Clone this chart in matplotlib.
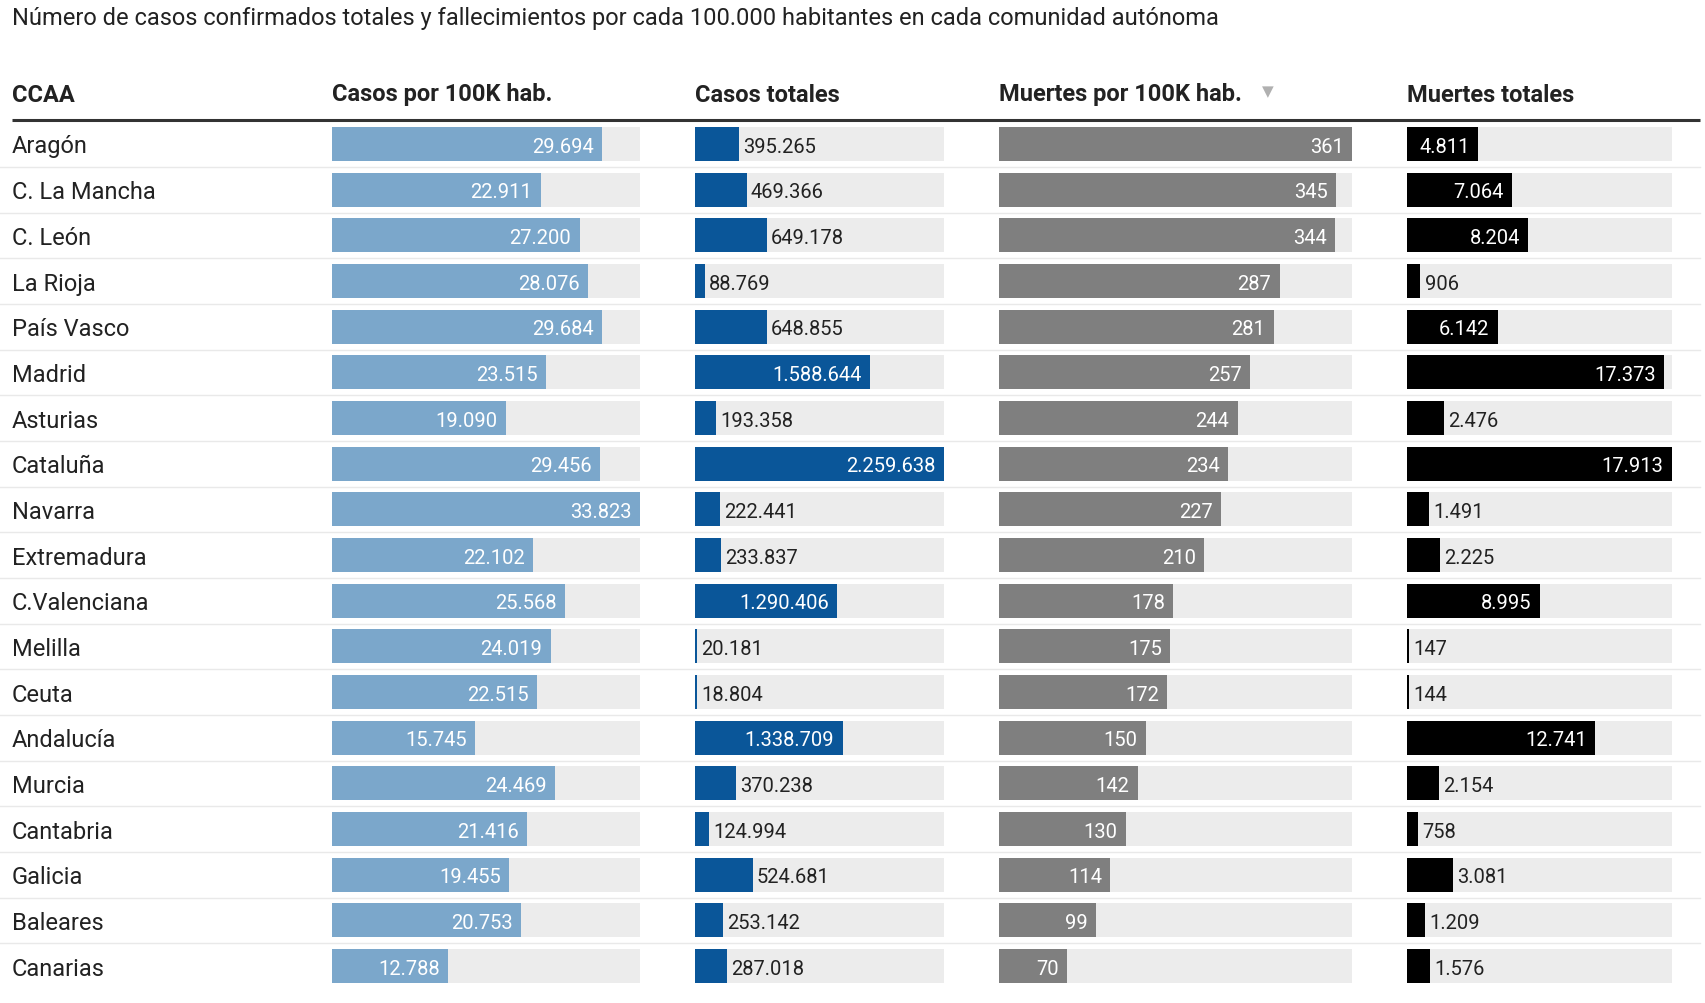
import matplotlib
matplotlib.use("Agg")
import matplotlib.pyplot as plt

plt.rcParams['font.family'] = ['Roboto', 'DejaVu Sans']

title = "Número de casos confirmados totales y fallecimientos por cada 100.000 habitantes en cada comunidad autónoma"
headers = ["CCAA", "Casos por 100K hab.", "Casos totales", "Muertes por 100K hab.", "Muertes totales"]

ccaa = ["Aragón", "C. La Mancha", "C. León", "La Rioja", "País Vasco", "Madrid", "Asturias",
        "Cataluña", "Navarra", "Extremadura", "C.Valenciana", "Melilla", "Ceuta", "Andalucía",
        "Murcia", "Cantabria", "Galicia", "Baleares", "Canarias"]
casos_100k = [29694, 22911, 27200, 28076, 29684, 23515, 19090, 29456, 33823, 22102,
              25568, 24019, 22515, 15745, 24469, 21416, 19455, 20753, 12788]
casos_tot = [395265, 469366, 649178, 88769, 648855, 1588644, 193358, 2259638, 222441, 233837,
             1290406, 20181, 18804, 1338709, 370238, 124994, 524681, 253142, 287018]
muertes_100k = [361, 345, 344, 287, 281, 257, 244, 234, 227, 210,
                178, 175, 172, 150, 142, 130, 114, 99, 70]
muertes_tot = [4811, 7064, 8204, 906, 6142, 17373, 2476, 17913, 1491, 2225,
               8995, 147, 144, 12741, 2154, 758, 3081, 1209, 1576]

W, H = 1706, 1004
fig = plt.figure(figsize=(W / 100, H / 100), dpi=100)
bg = fig.add_axes([0, 0, 1, 1])
bg.set_xlim(0, W)
bg.set_ylim(H, 0)
bg.axis('off')

n = len(ccaa)
row0, step = 145, 45.67

bg.text(12, 18, title, fontsize=17, color='#222222', va='center', ha='left')

head_x = [12, 332, 695, 999, 1407]
for x, h in zip(head_x, headers):
    bg.text(x, 95, h, fontsize=17, fontweight='bold', color='#222222', va='center', ha='left')
bg.text(1268, 92, '▼', fontsize=11, color='#b0b0b0', va='center', ha='center',
        family='DejaVu Sans')
bg.plot([12, 1700], [121, 121], color='#333333', lw=2.2, solid_capstyle='butt')

for i in range(n):
    y = row0 + i * step
    bg.text(12, y + 2, ccaa[i], fontsize=17, color='#222222', va='center', ha='left')
    if i < n - 1:
        bg.plot([0, 1700], [y + step / 2, y + step / 2], color='#e9e9e9', lw=1)

# columns: (values, left px, right px, bar colour)
cols = [
    (casos_100k, 332, 640, '#7ba7cb'),
    (casos_tot, 695, 944, '#0a5699'),
    (muertes_100k, 999, 1352, '#7f7f7f'),
    (muertes_tot, 1407, 1672, '#000000'),
]


def fmt(v):
    return f"{v:,}".replace(",", ".")


top = row0 - step / 2
bottom = row0 + (n - 0.5) * step
for vals, x0, x1, color in cols:
    ax = fig.add_axes([x0 / W, 1 - bottom / H, (x1 - x0) / W, (bottom - top) / H])
    ax.patch.set_alpha(0)
    ax.axis('off')
    vmax = max(vals)
    ax.set_xlim(0, vmax)
    ax.set_ylim(n - 0.5, -0.5)
    ypos = list(range(n))
    ax.barh(ypos, [vmax] * n, height=0.74, color='#ececec')
    ax.barh(ypos, vals, height=0.74, color=color)
    track_px = x1 - x0
    for y, v in zip(ypos, vals):
        lab = fmt(v)
        bar_px = v / vmax * track_px
        if bar_px > len(lab) * 11 + 6:
            ax.annotate(lab, (v, y), xytext=(-6, -1.5), textcoords='offset points',
                        ha='right', va='center', fontsize=14.5, color='white')
        else:
            ax.annotate(lab, (v, y), xytext=(3, -1.5), textcoords='offset points',
                        ha='left', va='center', fontsize=14.5, color='#222222')

fig.savefig('out.png', dpi=100)
